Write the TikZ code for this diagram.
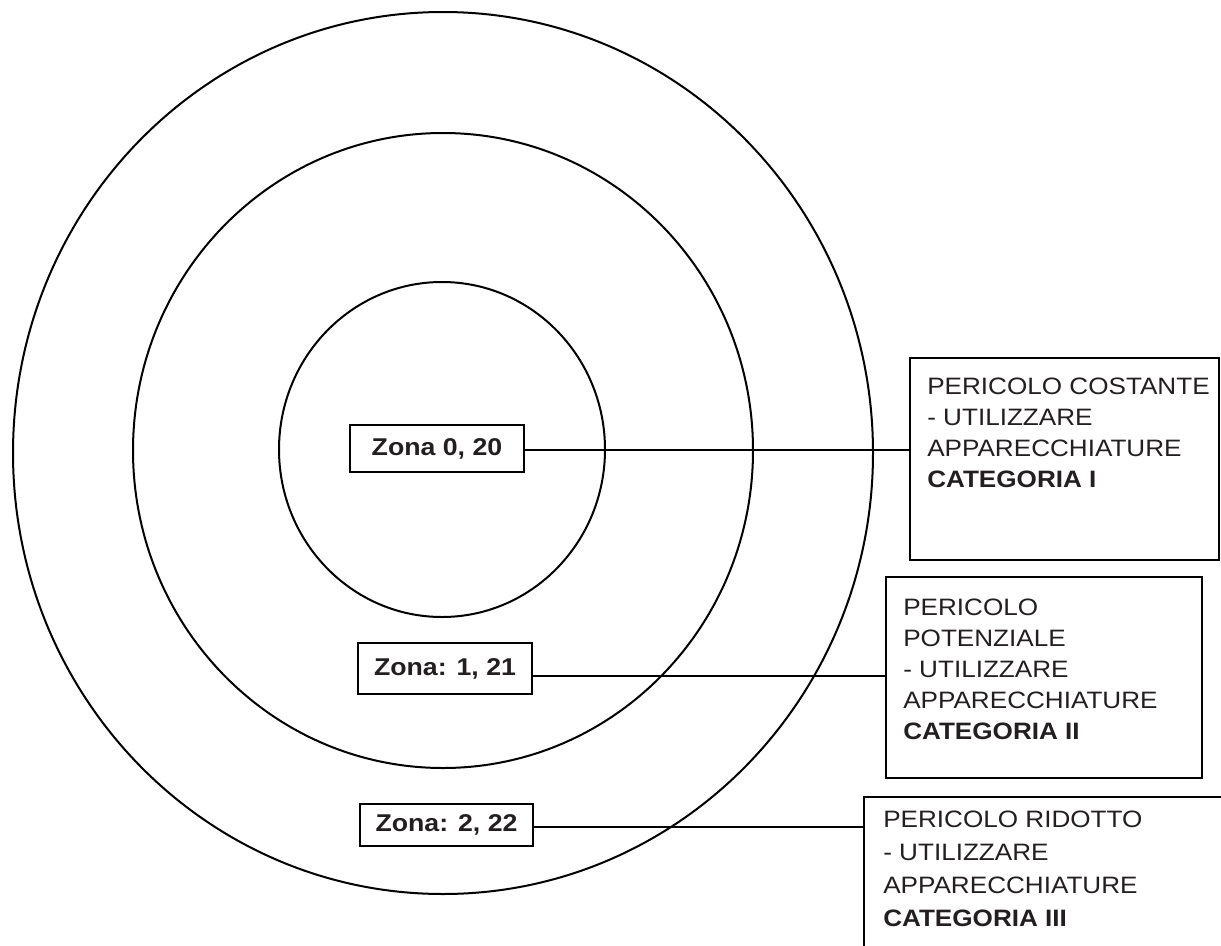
\documentclass[tikz,border=0pt]{standalone}
\usepackage{fontspec}
\setmainfont{Liberation Sans}[FakeStretch=1.1]
\definecolor{ink}{HTML}{231F20}
\begin{document}
\begin{tikzpicture}[x=0.75pt,y=-0.75pt,
  ring/.style={line width=1.5pt},
  zone/.style={draw=black, line width=1.5pt, inner sep=0pt, text=ink,
    font=\bfseries\fontsize{18.2pt}{22pt}\selectfont},
  infobox/.style={draw=black, line width=2.2pt, inner sep=0pt},
  info/.style={anchor=base west, align=left, inner sep=0pt, text=ink,
    font=\fontsize{17.8pt}{23.25pt}\selectfont},
  link/.style={line width=1.5pt}]
\useasboundingbox (0,0) rectangle (1221,946);
\clip (0,0) rectangle (1221,946);
% rings
\draw[ring] (443,453) ellipse [x radius=430, y radius=441];
\draw[ring] (443,450.5) ellipse [x radius=310, y radius=317.5];
\draw[ring] (442,449.5) ellipse [x radius=163, y radius=167.5];
% zone labels
\node[zone, minimum width=130.5pt, minimum height=35.25pt] (z0) at (437,448.5) {Zona 0, 20};
\node[zone, minimum width=130.5pt, minimum height=38.25pt] (z1) at (445,668.5) {Zona: 1, 21};
\node[zone, minimum width=129.75pt, minimum height=31.5pt] (z2) at (446.5,825) {Zona: 2, 22};
% info boxes
\node[infobox, minimum width=231.75pt, minimum height=151.5pt] (b1) at (1064.5,459) {};
\node[infobox, minimum width=237pt, minimum height=150.75pt] (b2) at (1044,677.5) {};
\node[infobox, minimum width=282pt, minimum height=137.25pt] (b3) at (1052,888.5) {};
% texts (anchored at the baseline of their last line)
\node[info] (t1) at (927,487) {PERICOLO COSTANTE\\- UTILIZZARE\\APPARECCHIATURE\\\textbf{CATEGORIA I}};
\node[info] (t2) at (903,739) {PERICOLO\\POTENZIALE\\- UTILIZZARE\\APPARECCHIATURE\\\textbf{CATEGORIA II}};
\node[info, font=\fontsize{17.8pt}{24.75pt}\selectfont] (t3) at (883,926) {PERICOLO RIDOTTO\\- UTILIZZARE\\APPARECCHIATURE\\\textbf{CATEGORIA III}};
% connectors
\draw[link] ([yshift=-1.1pt]z0.east) -- ([yshift=-1.1pt]z0.east -| b1.west);
\draw[link] ([yshift=-5.6pt]z1.east) -- ([yshift=-5.6pt]z1.east -| b2.west);
\draw[link] ([yshift=-1.5pt]z2.east) -- ([yshift=-1.5pt]z2.east -| b3.west);
\end{tikzpicture}
\end{document}
